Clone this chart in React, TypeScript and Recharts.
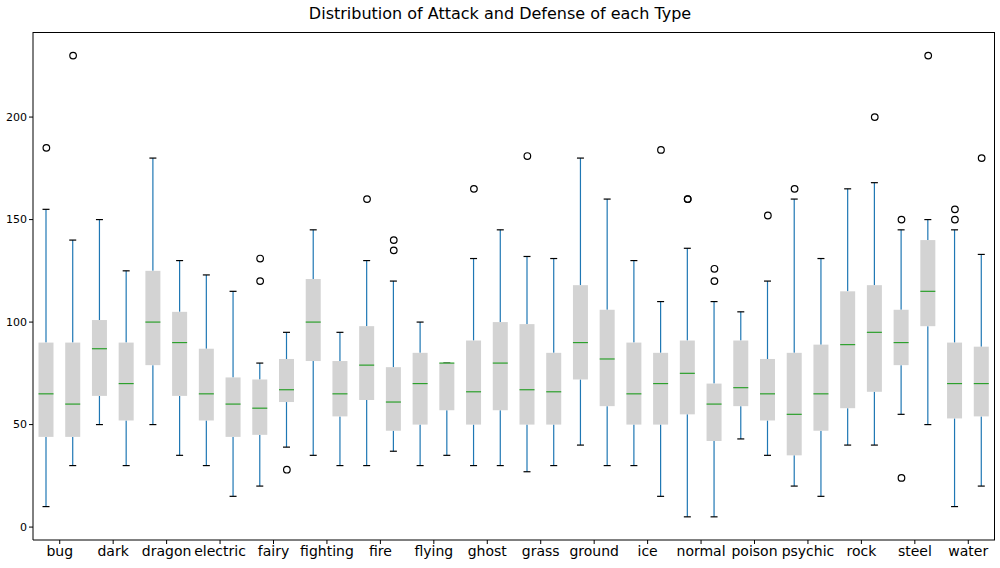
import React from "react";
import { ComposedChart, Bar, Scatter, XAxis, YAxis } from "recharts";

if (typeof document !== "undefined") document.body.style.margin = "0";

const types = ["bug", "dark", "dragon", "electric", "fairy", "fighting", "fire", "flying", "ghost",
  "grass", "ground", "ice", "normal", "poison", "psychic", "rock", "steel", "water"];

// each box: [low whisker, Q1, median, Q3, high whisker]; attack then defense per type
const attackBoxes = [
  [10, 44, 65, 90, 155], [50, 64, 87, 101, 150], [50, 79, 100, 125, 180], [30, 52, 65, 87, 123],
  [20, 45, 58, 72, 80], [35, 81, 100, 121, 145], [30, 62, 79, 98, 130], [30, 50, 70, 85, 100],
  [30, 50, 66, 91, 131], [27, 50, 67, 99, 132], [40, 72, 90, 118, 180], [30, 50, 65, 90, 130],
  [5, 55, 75, 91, 136], [43, 59, 68, 91, 105], [20, 35, 55, 85, 160], [40, 58, 89, 115, 165],
  [55, 79, 90, 106, 145], [10, 53, 70, 90, 145],
];
const defenseBoxes = [
  [30, 44, 60, 90, 140], [30, 52, 70, 90, 125], [35, 64, 90, 105, 130], [15, 44, 60, 73, 115],
  [39, 61, 67, 82, 95], [30, 54, 65, 81, 95], [37, 47, 61, 78, 120], [35, 57, 80, 80, 80],
  [30, 57, 80, 100, 145], [30, 50, 66, 85, 131], [30, 59, 82, 106, 160], [15, 50, 70, 85, 110],
  [5, 42, 60, 70, 110], [35, 52, 65, 82, 120], [15, 47, 65, 89, 131], [40, 66, 95, 118, 168],
  [50, 98, 115, 140, 150], [20, 54, 70, 88, 133],
];
const attackOutliers = [[185], [], [], [], [131, 120], [], [160], [], [165], [181], [], [],
  [160, 160], [], [165], [], [150, 24], [155, 150]];
const defenseOutliers = [[230], [], [], [], [28], [], [140, 135], [], [], [], [], [184],
  [126, 120], [152], [], [200], [230], [180]];

const rows = types.flatMap((t, i) => [
  { pos: 2 * i + 0.5, b: attackBoxes[i] },
  { pos: 2 * i + 1.5, b: defenseBoxes[i] },
]).map((r) => ({ pos: r.pos, range: [r.b[0], r.b[4]], b: r.b }));

const outliers = types.flatMap((t, i) => [
  ...attackOutliers[i].map((v) => ({ pos: 2 * i + 0.5, v })),
  ...defenseOutliers[i].map((v) => ({ pos: 2 * i + 1.5, v })),
]);

const BoxShape = (props: any) => {
  const { x, y, width, height, payload } = props;
  const [lo, q1, med, q3, hi] = payload.b;
  const py = (v: number) => (hi === lo ? y : y + ((hi - v) / (hi - lo)) * height);
  const cx = x + width / 2;
  const bw = 15;
  const cw = 7;
  return (
    <g>
      <line x1={cx} x2={cx} y1={py(hi)} y2={py(q3)} stroke="#1f77b4" strokeWidth={1.2} />
      <line x1={cx} x2={cx} y1={py(q1)} y2={py(lo)} stroke="#1f77b4" strokeWidth={1.2} />
      <line x1={cx - cw / 2} x2={cx + cw / 2} y1={py(hi)} y2={py(hi)} stroke="#000" strokeWidth={1.2} />
      <line x1={cx - cw / 2} x2={cx + cw / 2} y1={py(lo)} y2={py(lo)} stroke="#000" strokeWidth={1.2} />
      <rect x={cx - bw / 2} y={py(q3)} width={bw} height={Math.max(py(q1) - py(q3), 0.5)} fill="#d3d3d3" />
      <line x1={cx - bw / 2} x2={cx + bw / 2} y1={py(med)} y2={py(med)} stroke="#2ca02c" strokeWidth={1.2} />
    </g>
  );
};

const Flier = (props: any) => (
  <circle cx={props.cx} cy={props.cy} r={3.3} fill="none" stroke="#000" strokeWidth={1.2} />
);

const font = "DejaVu Sans, sans-serif";

export default function App() {
  return (
    <div style={{ width: 1000, height: 568, position: "relative", background: "#fff", fontFamily: font }}>
      <div style={{ position: "absolute", top: 4, width: 1000, textAlign: "center", fontSize: 16, color: "#000" }}>
        Distribution of Attack and Defense of each Type
      </div>
      <ComposedChart width={1000} height={568} data={rows} margin={{ top: 32, right: 5, bottom: 0, left: 3 }}>
        <XAxis dataKey="pos" type="number" domain={[0, 36]} ticks={types.map((t, i) => 2 * i + 1)}
          tickFormatter={(v) => types[(v - 1) / 2]} interval={0} allowDataOverflow
          tick={{ fontSize: 14, fill: "#000", fontFamily: font }} stroke="#000" tickSize={4} height={28} />
        <YAxis domain={[-6.3, 241.5]} ticks={[0, 50, 100, 150, 200]} allowDataOverflow
          tick={{ fontSize: 11, fill: "#000", fontFamily: font }} stroke="#000" tickSize={4} width={30} />
        <Bar dataKey="range" barSize={26} shape={<BoxShape />} isAnimationActive={false} />
        <Scatter data={outliers} dataKey="v" shape={<Flier />} isAnimationActive={false} />
      </ComposedChart>
      <div style={{ position: "absolute", left: 33, top: 32, width: 962, height: 508, boxSizing: "border-box",
        borderTop: "1px solid #000", borderRight: "1px solid #000", pointerEvents: "none" }} />
    </div>
  );
}
